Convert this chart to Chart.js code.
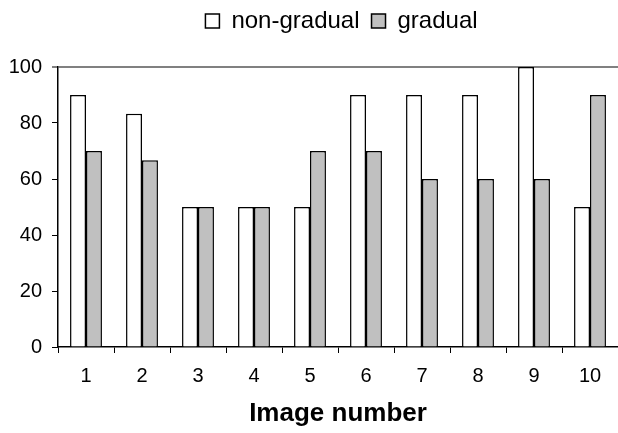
<!DOCTYPE html>
<html>
<head>
<meta charset="utf-8">
<script src="https://cdn.jsdelivr.net/npm/chart.js@4.4.0/dist/chart.umd.min.js"></script>
<style>
  html, body { margin: 0; padding: 0; background: #fff; }
</style>
</head>
<body>
<canvas id="myChart" width="618" height="433"></canvas>
<script>
const labels = ['1', '2', '3', '4', '5', '6', '7', '8', '9', '10'];
const nonGradual = [90, 83.3, 50, 50, 50, 90, 90, 90, 100, 50];
const gradual = [70, 66.7, 50, 50, 70, 70, 60, 60, 60, 90];
const yTicks = [0, 20, 40, 60, 80, 100];

Chart.defaults.font.family = '"Liberation Sans", Arial, sans-serif';
Chart.defaults.color = '#000';

// move the legend over the plot area centre and up, as in the original
const legendShift = {
    id: 'legendShift',
    afterLayout(chart) {
        const lg = chart.legend;
        lg.left += 31;
        lg.right += 31;
        lg.top -= 24;
        lg.bottom -= 24;
    }
};

const data = {
    labels: labels,
    datasets: [{
        label: 'non-gradual',
        backgroundColor: '#ffffff',
        borderColor: '#000000',
        borderWidth: 1.5,
        data: nonGradual
    }, {
        label: 'gradual',
        backgroundColor: '#c0c0c0',
        borderColor: '#000000',
        borderWidth: 1.5,
        data: gradual
    }]
};

const config = {
    type: 'bar',
    data: data,
    plugins: [legendShift],
    options: {
        responsive: false,
        animation: false,
        layout: {
            padding: { top: 21, left: 0, right: -3, bottom: 4 }
        },
        datasets: {
            bar: {
                categoryPercentage: 0.57,
                barPercentage: 1.0
            }
        },
        plugins: {
            tooltip: { enabled: false },
            legend: {
                position: 'top',
                labels: {
                    boxWidth: 14,
                    boxHeight: 14,
                    padding: 12,
                    font: { size: 24 },
                    color: '#000'
                }
            }
        },
        scales: {
            x: {
                grid: {
                    offset: true,
                    drawOnChartArea: false,
                    drawTicks: true,
                    tickLength: 6,
                    color: '#000',
                    tickColor: '#000'
                },
                border: { display: true, color: '#000', width: 1.5 },
                ticks: {
                    font: { size: 20 },
                    padding: 11,
                    maxRotation: 0
                },
                title: {
                    display: true,
                    text: 'Image number',
                    font: { size: 26, weight: 'bold' },
                    padding: { top: 4, bottom: 0 }
                },
                afterFit(scale) {
                    scale.height = 82;
                }
            },
            y: {
                min: 0,
                max: 100,
                afterBuildTicks(scale) {
                    scale.ticks = yTicks.map(v => ({ value: v }));
                },
                grid: {
                    drawTicks: true,
                    tickLength: 6,
                    color: ctx => (ctx.tick && ctx.tick.value === 100) ? '#808080' : 'rgba(0,0,0,0)',
                    lineWidth: ctx => (ctx.tick && ctx.tick.value === 100) ? 2 : 1,
                    tickColor: '#000',
                    tickWidth: 1
                },
                border: { display: true, color: '#000', width: 1.5 },
                ticks: {
                    font: { size: 20 },
                    padding: 10
                },
                afterFit(scale) {
                    scale.width = 58;
                }
            }
        }
    }
};

var myChart = new Chart(
    document.getElementById('myChart'),
    config
);
</script>
</body>
</html>
